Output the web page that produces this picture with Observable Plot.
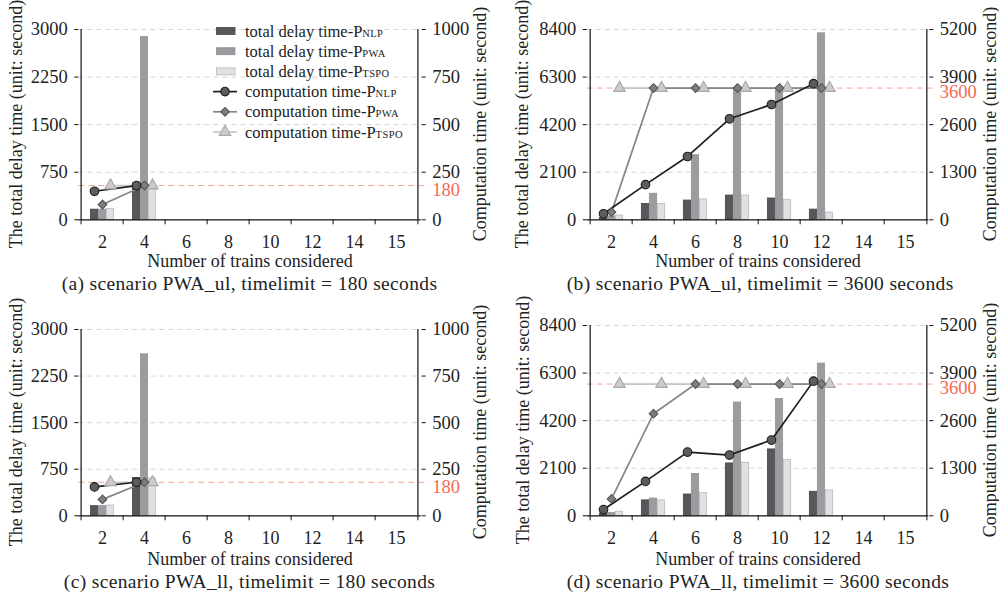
<!DOCTYPE html>
<html>
<head>
<meta charset="utf-8">
<script src="https://cdn.jsdelivr.net/npm/d3@7"></script>
<script src="https://cdn.jsdelivr.net/npm/@observablehq/plot@0.6"></script>
<style>
  html, body { margin: 0; padding: 0; background: #fff; }
  #root { position: relative; width: 999px; height: 599px; background: #fff; font-family: "Liberation Serif", "Times New Roman", serif; color: #222; overflow: hidden; }
  .panel { position: absolute; }
  .caption { position: absolute; font-size: 19.5px; letter-spacing: 0.35px; line-height: 20px; height: 20px; text-align: center; white-space: nowrap; color: #222; }
  .ytitle { position: absolute; width: 300px; height: 20px; line-height: 20px; font-size: 18px; text-align: center; white-space: nowrap; transform: rotate(-90deg); transform-origin: 50% 50%; color: #222; }
  .legend { position: absolute; }
</style>
</head>
<body>
<div id="root"></div>
<script>
// ---------- data ----------
const categories = ["2", "4", "6", "8", "10", "12", "14", "15"];
const nSmall = ["2", "4"];
const nLarge = ["2", "4", "6", "8", "10", "12"];

const leftTicks180 = [0, 750, 1500, 2250, 3000];
const rightTicks180 = [0, 250, 500, 750, 1000];
const leftTicks3600 = [0, 2100, 4200, 6300, 8400];
const rightTicks3600 = [0, 1300, 2600, 3900, 5200];

// (a) scenario PWA_ul, timelimit = 180
const delayNLP_a = [160, 570];
const delayPWA_a = [160, 2880];
const delayTSPO_a = [170, 480];
const compNLP_a = [150, 180];
const compPWA_a = [80, 180];
const compTSPO_a = [180, 180];

// (b) scenario PWA_ul, timelimit = 3600
const delayNLP_b = [80, 700, 850, 1070, 940, 450];
const delayPWA_b = [150, 1150, 2850, 5760, 5770, 8230];
const delayTSPO_b = [190, 700, 900, 1070, 880, 320];
const compNLP_b = [165, 960, 1730, 2760, 3150, 3720];
const compPWA_b = [210, 3600, 3600, 3600, 3600, 3600];
const compTSPO_b = [3600, 3600, 3600, 3600, 3600, 3600];

// (c) scenario PWA_ll, timelimit = 180
const delayNLP_c = [155, 610];
const delayPWA_c = [155, 2600];
const delayTSPO_c = [165, 600];
const compNLP_c = [155, 180];
const compPWA_c = [88, 180];
const compTSPO_c = [180, 180];

// (d) scenario PWA_ll, timelimit = 3600
const delayNLP_d = [100, 680, 940, 2310, 2930, 1060];
const delayPWA_d = [130, 760, 1850, 5000, 5160, 6720];
const delayTSPO_d = [180, 680, 1000, 2340, 2470, 1120];
const compNLP_d = [170, 940, 1740, 1660, 2070, 3680];
const compPWA_d = [460, 2790, 3600, 3600, 3600, 3600];
const compTSPO_d = [3600, 3600, 3600, 3600, 3600, 3600];

const captions = [
  "(a) scenario PWA_ul, timelimit = 180 seconds",
  "(b) scenario PWA_ul, timelimit = 3600 seconds",
  "(c) scenario PWA_ll, timelimit = 180 seconds",
  "(d) scenario PWA_ll, timelimit = 3600 seconds"
];
const xTitle = "Number of trains considered";
const yTitleLeft = "The total delay time (unit: second)";
const yTitleRight = "Computation time (unit: second)";
const seriesKeys = ["NLP", "PWA", "TSPO"];

// ---------- styles ----------
const FONT = "\"Liberation Serif\", \"Times New Roman\", serif";
const barFill = {NLP: "#58585a", PWA: "#9c9ca0", TSPO: "#e1e1e3"};
const barStroke = {NLP: "#444446", PWA: "#929296", TSPO: "#b9b9bb"};
const lineStroke = {NLP: "#1e1e1e", PWA: "#868686", TSPO: "#c6c6c6"};
const dotFill = {NLP: "#5c5c5e", PWA: "#7e7e80", TSPO: "#cbcbcb"};
const dotStroke = {NLP: "#1e1e1e", PWA: "#555555", TSPO: "#a9a9a9"};
const symbols = {NLP: "circle", PWA: "diamond2", TSPO: "triangle"};
const dotR = {NLP: 4.3, PWA: 3.9, TSPO: 4.3};
const offsets = {NLP: -8, PWA: 0, TSPO: 8};
const red = "#f26a52";

const panels = [
  {left: 0, top: 0, width: 500, mt: 29, mb: 50.7, ml: 78.3, mr: 79.3,
   lticks: leftTicks180, rticks: rightTicks180, limit: 180, ns: nSmall,
   delay: [delayNLP_a, delayPWA_a, delayTSPO_a], comp: [compNLP_a, compPWA_a, compTSPO_a],
   caption: captions[0], xDy: 41.7, lDx: -62.3, rDx: 59.3, capTop: 274, legend: true},
  {left: 500, top: 0, width: 499, mt: 29, mb: 50.7, ml: 86.7, mr: 70.7,
   lticks: leftTicks3600, rticks: rightTicks3600, limit: 3600, ns: nLarge,
   delay: [delayNLP_b, delayPWA_b, delayTSPO_b], comp: [compNLP_b, compPWA_b, compTSPO_b],
   caption: captions[1], xDy: 41.7, lDx: -65, rDx: 61.7, capTop: 274, legend: false},
  {left: 0, top: 300, width: 500, mt: 29, mb: 54.7, ml: 78.3, mr: 79.3,
   lticks: leftTicks180, rticks: rightTicks180, limit: 180, ns: nSmall,
   delay: [delayNLP_c, delayPWA_c, delayTSPO_c], comp: [compNLP_c, compPWA_c, compTSPO_c],
   caption: captions[2], xDy: 43.7, lDx: -62.3, rDx: 59.3, capTop: 271.5, legend: false},
  {left: 500, top: 300, width: 499, mt: 25, mb: 54.7, ml: 86.7, mr: 70.7,
   lticks: leftTicks3600, rticks: rightTicks3600, limit: 3600, ns: nLarge,
   delay: [delayNLP_d, delayPWA_d, delayTSPO_d], comp: [compNLP_d, compPWA_d, compTSPO_d],
   caption: captions[3], xDy: 43.7, lDx: -64, rDx: 61.7, capTop: 271.5, legend: false}
];

const H = 270;
const root = document.getElementById("root");

function buildPanel(p) {
  const lmax = p.lticks[p.lticks.length - 1];
  const rmax = p.rticks[p.rticks.length - 1];
  const k = lmax / rmax;
  const pw = p.width - p.ml - p.mr;
  const ph = H - p.mt - p.mb;
  const bw = pw / categories.length;
  const barW = 8;
  const inset = (bw - barW) / 2;
  const first = categories[0], last = categories[categories.length - 1];

  const marks = [];
  marks.push(Plot.ruleY(p.lticks.filter(t => t > 0), {stroke: "#d6d6d6", strokeWidth: 1, strokeDasharray: "5,4"}));
  marks.push(Plot.ruleY([p.limit * k], {stroke: "#f7a595", strokeWidth: 1, strokeDasharray: "6,4", insetRight: -8}));
  seriesKeys.forEach((key, si) => {
    const rows = p.ns.map((n, i) => ({n, v: p.delay[si][i]}));
    marks.push(Plot.barY(rows, {x: "n", y: "v", dx: offsets[key], insetLeft: inset, insetRight: inset,
      fill: barFill[key], stroke: barStroke[key], strokeWidth: 0.8}));
  });
  ["TSPO", "PWA", "NLP"].forEach(key => {
    const si = seriesKeys.indexOf(key);
    const rows = p.ns.map((n, i) => ({n, v: p.comp[si][i] * k}));
    marks.push(Plot.line(rows, {x: "n", y: "v", dx: offsets[key], stroke: lineStroke[key], strokeWidth: 1.7}));
  });
  ["TSPO", "PWA", "NLP"].forEach(key => {
    const si = seriesKeys.indexOf(key);
    const rows = p.ns.map((n, i) => ({n, v: p.comp[si][i] * k}));
    marks.push(Plot.dot(rows, {x: "n", y: "v", dx: offsets[key], symbol: symbols[key], r: dotR[key],
      fill: dotFill[key], stroke: dotStroke[key], strokeWidth: 1.1}));
  });
  marks.push(Plot.ruleY([0], {stroke: "#111", strokeWidth: 1.2}));
  marks.push(Plot.ruleX([first], {dx: -bw / 2, stroke: "#111", strokeWidth: 1.2}));
  marks.push(Plot.ruleX([last], {dx: bw / 2, stroke: "#111", strokeWidth: 1.2}));
  marks.push(Plot.ruleX(categories, {x: d => d, dx: -bw / 2, insetTop: ph, insetBottom: -5, stroke: "#111", strokeWidth: 1}));
  marks.push(Plot.ruleX([last], {dx: bw / 2, insetTop: ph, insetBottom: -5, stroke: "#111", strokeWidth: 1}));
  marks.push(Plot.axisX({tickSize: 0, tickPadding: 15, label: null, fontSize: 18}));
  marks.push(Plot.axisY({anchor: "left", ticks: p.lticks, tickFormat: d => String(d), tickSize: 4, tickPadding: 7, label: null, fontSize: 18.5, stroke: "#111"}));
  marks.push(Plot.axisY({anchor: "right", ticks: p.rticks.map(t => t * k), tickFormat: d => String(Math.round(d / k)),
    tickSize: 4, tickPadding: 7, label: null, fontSize: 18.5, stroke: "#111"}));
  marks.push(Plot.text([p.limit * k], {y: d => d, frameAnchor: "right", dx: 11, dy: 4.5, textAnchor: "start",
    fill: red, fontSize: 18.5, text: () => String(p.limit)}));
  marks.push(Plot.text([xTitle], {text: d => d, frameAnchor: "bottom", dy: p.xDy, lineAnchor: "middle", fontSize: 18}));

  const chart = Plot.plot({
    width: p.width,
    height: H,
    marginTop: p.mt,
    marginBottom: p.mb,
    marginLeft: p.ml,
    marginRight: p.mr,
    style: {fontFamily: FONT, fontSize: "18px", color: "#222", background: "transparent", overflow: "visible"},
    x: {type: "band", domain: categories, padding: 0},
    y: {domain: [0, lmax]},
    marks
  });

  const div = document.createElement("div");
  div.className = "panel";
  div.style.left = p.left + "px";
  div.style.top = p.top + "px";
  div.style.width = p.width + "px";
  div.style.height = "300px";
  div.appendChild(chart);

  const cy = p.mt + ph / 2;
  const tl = document.createElement("div");
  tl.className = "ytitle";
  tl.style.left = (p.ml + p.lDx - 150) + "px";
  tl.style.top = (cy - 10) + "px";
  tl.textContent = yTitleLeft;
  div.appendChild(tl);
  const tr = document.createElement("div");
  tr.className = "ytitle";
  tr.style.left = (p.width - p.mr + p.rDx - 150) + "px";
  tr.style.top = (cy - 10) + "px";
  tr.textContent = yTitleRight;
  div.appendChild(tr);

  const cap = document.createElement("div");
  cap.className = "caption";
  cap.style.left = (p.ml - 20) + "px";
  cap.style.width = (pw + 40) + "px";
  cap.style.top = p.capTop + "px";
  cap.textContent = p.caption;
  div.appendChild(cap);

  if (p.legend) div.appendChild(buildLegend());
  root.appendChild(div);
}

function buildLegend() {
  const rows = [
    {kind: "bar", key: "NLP", label: "total delay time-P"},
    {kind: "bar", key: "PWA", label: "total delay time-P"},
    {kind: "bar", key: "TSPO", label: "total delay time-P"},
    {kind: "line", key: "NLP", label: "computation time-P"},
    {kind: "line", key: "PWA", label: "computation time-P"},
    {kind: "line", key: "TSPO", label: "computation time-P"}
  ];
  const ns = "http://www.w3.org/2000/svg";
  const svg = document.createElementNS(ns, "svg");
  svg.setAttribute("width", 210);
  svg.setAttribute("height", 130);
  const wrap = document.createElement("div");
  wrap.className = "legend";
  wrap.style.left = "205px";
  wrap.style.top = "18px";
  wrap.appendChild(svg);
  const symbolPath = {NLP: d3.symbol(d3.symbolCircle, Math.PI * 4.3 * 4.3)(),
                      PWA: d3.symbol(d3.symbolDiamond2, Math.PI * 3.9 * 3.9)(),
                      TSPO: d3.symbol(d3.symbolTriangle, Math.PI * 4.3 * 4.3)()};
  rows.forEach((r, i) => {
    const cy = 13 + i * 20.2;
    if (r.kind === "bar") {
      const rect = document.createElementNS(ns, "rect");
      rect.setAttribute("x", 11.5); rect.setAttribute("y", cy - 3.5);
      rect.setAttribute("width", 18.5); rect.setAttribute("height", 7);
      rect.setAttribute("fill", barFill[r.key]); rect.setAttribute("stroke", barStroke[r.key]);
      rect.setAttribute("stroke-width", 0.8);
      svg.appendChild(rect);
    } else {
      const ln = document.createElementNS(ns, "line");
      ln.setAttribute("x1", 8); ln.setAttribute("x2", 32);
      ln.setAttribute("y1", cy); ln.setAttribute("y2", cy);
      ln.setAttribute("stroke", lineStroke[r.key]); ln.setAttribute("stroke-width", 1.7);
      svg.appendChild(ln);
      const path = document.createElementNS(ns, "path");
      path.setAttribute("d", symbolPath[r.key]);
      path.setAttribute("transform", `translate(20,${cy})`);
      path.setAttribute("fill", dotFill[r.key]); path.setAttribute("stroke", dotStroke[r.key]);
      path.setAttribute("stroke-width", 1.1);
      svg.appendChild(path);
    }
    const t = document.createElementNS(ns, "text");
    t.setAttribute("x", 40); t.setAttribute("y", cy + 5.5);
    t.setAttribute("style", `font-family: ${FONT}; font-size: 16.5px;`);
    t.setAttribute("fill", "#222");
    t.appendChild(document.createTextNode(r.label));
    const sub = document.createElementNS(ns, "tspan");
    sub.setAttribute("style", "font-size: 10.5px; letter-spacing: 0.4px;");
    sub.textContent = r.key;
    t.appendChild(sub);
    svg.appendChild(t);
  });
  return wrap;
}

panels.forEach(buildPanel);
</script>
</body>
</html>
